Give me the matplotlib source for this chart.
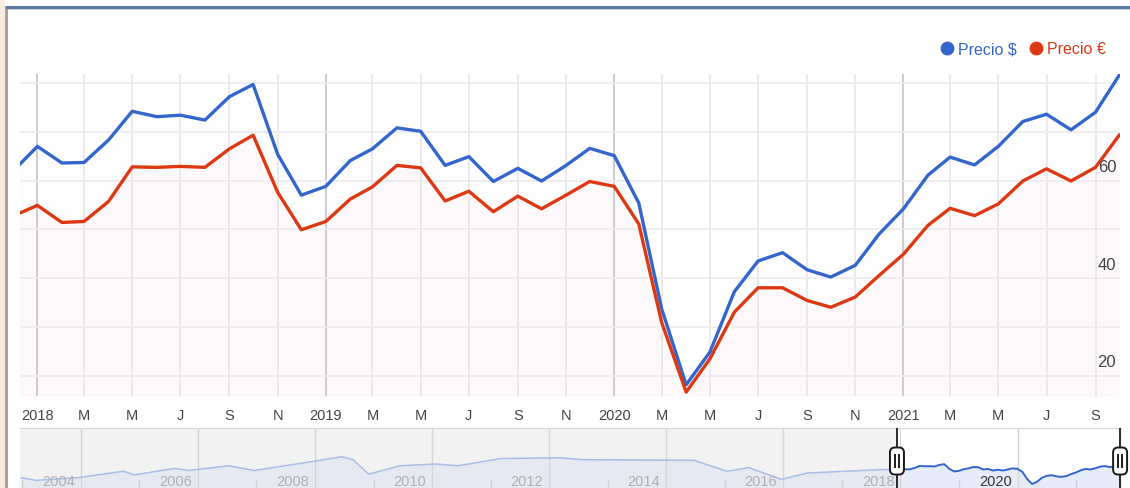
import matplotlib
matplotlib.use("Agg")
import matplotlib.pyplot as plt
import matplotlib.dates as mdates
import matplotlib.transforms as mtrans
from matplotlib.lines import Line2D
from matplotlib.patches import Rectangle, FancyBboxPatch
import pandas as pd
import datetime as dt

plt.rcParams['font.family'] = ['Liberation Sans', 'DejaVu Sans']

# ---------------- data ----------------
months = pd.date_range('2017-12-01', '2021-10-01', freq='MS')

precio_usd = [61.9,
              67.0, 63.6, 63.7, 68.3, 74.2, 73.1, 73.4, 72.4, 77.2, 79.7, 65.4, 57.0,
              58.8, 64.1, 66.5, 70.8, 70.1, 63.1, 64.9, 59.8, 62.5, 59.9, 63.1, 66.6,
              65.1, 55.4, 33.7, 18.1, 24.8, 37.2, 43.5, 45.2, 41.7, 40.2, 42.6, 49.0,
              54.2, 61.1, 64.8, 63.2, 67.0, 72.1, 73.6, 70.4, 74.0, 81.6]

precio_eur = [52.7,
              54.9, 51.4, 51.6, 55.7, 62.8, 62.7, 62.9, 62.7, 66.5, 69.3, 57.6, 49.9,
              51.6, 56.2, 58.7, 63.1, 62.6, 55.8, 57.8, 53.6, 56.8, 54.2, 57.0, 59.8,
              58.8, 51.1, 30.9, 16.6, 23.4, 33.0, 38.0, 38.0, 35.4, 34.0, 36.1, 40.5,
              44.9, 50.8, 54.3, 52.8, 55.2, 59.9, 62.4, 59.9, 62.7, 69.3]

series_names = ['Precio $', 'Precio €']
series_colors = ['#3366cc', '#dc3912']

xtick_dates = pd.date_range('2018-01-01', '2021-09-01', freq='2MS')
xtick_labels = ['2018', 'M', 'M', 'J', 'S', 'N',
                '2019', 'M', 'M', 'J', 'S', 'N',
                '2020', 'M', 'M', 'J', 'S', 'N',
                '2021', 'M', 'M', 'J', 'S']
y_grid = [20, 30, 40, 50, 60, 70, 80]
y_labels = [20, 40, 60]

# navigator (long history of Precio $)
nav_dates = pd.to_datetime(['2002-12-28', '2003-03-29', '2003-12-06', '2004-09-24', '2004-12-01',
                            '2005-08-08', '2005-11-06', '2006-07-13', '2006-12-20', '2007-12-16',
                            '2008-06-18', '2008-08-25', '2008-12-02', '2009-06-13', '2010-01-26',
                            '2010-06-10', '2011-03-10', '2012-03-11', '2012-07-24', '2014-06-25',
                            '2015-01-15', '2015-05-30', '2015-12-20', '2016-05-30', '2017-09-16'])
nav_values = [37.3, 29.3, 37.3, 57.5, 46.3, 66.5, 60.0, 74.5, 60.0, 87.8,
              102.7, 93.7, 48.5, 74.5, 80.1, 74.5, 97.1, 99.3, 93.7, 91.3,
              57.5, 68.9, 32.7, 52.2, 63.0]
nav_years = list(range(2004, 2021, 2))
nav_minor_years = list(range(2003, 2022, 2))

# ---------------- figure ----------------
W, H = 1130, 489
fig = plt.figure(figsize=(W / 100, H / 100), dpi=100)
fig.patch.set_facecolor('white')


def rect(x0, y0, x1, y1):
    return [x0 / W, 1 - y1 / H, (x1 - x0) / W, (y1 - y0) / H]


# frame decorations
fig.add_artist(Rectangle((0, 0), 5 / W, 1, transform=fig.transFigure, color='#f8ece2', lw=0))
fig.add_artist(Rectangle((5 / W, 0), 2.5 / W, 1 - 7 / H, transform=fig.transFigure, color='#aaa49c', lw=0))
fig.add_artist(Rectangle((6 / W, 1 - 9.5 / H), 1, 2.5 / H, transform=fig.transFigure, color='#5a79a6', lw=0))
fig.add_artist(Rectangle((7.5 / W, 1 - 10.5 / H), 1, 1 / H, transform=fig.transFigure, color='#d0d0d0', lw=0))

# ---------------- main chart ----------------
ax = fig.add_axes(rect(20, 75, 1120, 397))
ax.set_facecolor('white')
ax.set_xlim(dt.datetime(2017, 12, 10), dt.datetime(2021, 10, 2))
ax.set_ylim(15.8, 81.85)
for s in ax.spines.values():
    s.set_visible(False)

ax.set_yticks(y_grid)
ax.set_yticklabels([])
ax.tick_params(axis='y', length=0)
ax.set_xticks(xtick_dates)
ax.set_xticklabels(xtick_labels)
ax.tick_params(axis='x', length=0, pad=9, labelsize=10.5, labelcolor='#444444')

ax.grid(True, axis='y', color='#ebebf0', lw=1.2, zorder=0)
ax.grid(True, axis='x', color='#e6e6ea', lw=1.2, zorder=0)
for gl, lab in zip(ax.xaxis.get_gridlines(), xtick_labels):
    if lab.isdigit():
        gl.set_color('#c4c4c8')

ax.fill_between(months, precio_usd, 0, color='#cc66cc', alpha=0.012, lw=0, zorder=1)
ax.fill_between(months, precio_eur, 0, color=series_colors[1], alpha=0.015, lw=0, zorder=1)
ax.plot(months, precio_usd, color=series_colors[0], lw=2.4, solid_joinstyle='round', zorder=3)
ax.plot(months, precio_eur, color=series_colors[1], lw=2.4, solid_joinstyle='round', zorder=3)

off = mtrans.offset_copy(ax.get_yaxis_transform(), fig=fig, x=0, y=14, units='dots')
for v in y_labels:
    ax.text(0.9965, v, str(v), transform=off, ha='right', va='center',
            fontsize=12, color='#444444', zorder=4)

handles = [Line2D([], [], ls='', marker='o', markersize=9, color=c) for c in series_colors]
fig.legend(handles, series_names, loc='center right', bbox_to_anchor=(1106 / W, 1 - 50 / H),
           ncol=2, frameon=False, fontsize=11.5, labelcolor=series_colors,
           handlelength=0.8, handletextpad=0.3, columnspacing=0.8,
           borderpad=0, borderaxespad=0)

# ---------------- navigator ----------------
nav = fig.add_axes(rect(20, 429, 1122, 489))
nav.set_facecolor('#f2f2f2')
ref = mdates.date2num(dt.datetime(2004, 1, 1))
px_per_day = 58.55 / 365.25
nav.set_xlim(ref - 60.7 / px_per_day, ref + 1041.3 / px_per_day)
nav.set_ylim(5.7, 191.7)
for k, s in nav.spines.items():
    s.set_visible(k == 'top')
nav.spines['top'].set_color('#d8d8d8')
nav.set_yticks([])

sel0, sel1 = ax.get_xlim()
nav.axvspan(sel0, sel1, color='white', lw=0, zorder=0.5)

nav.set_xticks([mdates.date2num(dt.datetime(y, 1, 1)) for y in nav_years])
nav.set_xticklabels([])
nav.set_xticks([mdates.date2num(dt.datetime(y, 1, 1)) for y in nav_minor_years], minor=True)
nav.tick_params(axis='x', which='major', length=0)
nav.tick_params(axis='x', which='minor', direction='in', length=6, color='#d0d0d0', width=1)
nav.grid(True, axis='x', which='major', color='#d6d6d6', lw=1, zorder=0.6)

hist_x = list(nav_dates) + [months[0]]
hist_y = nav_values + [precio_usd[0]]
nav.fill_between(hist_x, hist_y, 0, color='#e6e9f1', lw=0, zorder=1)
nav.plot(hist_x, hist_y, color='#a9bde6', lw=1.1, zorder=2)
nav.fill_between(months, precio_usd, 0, color='#e5ebf8', lw=0, zorder=1)
nav.plot(months, precio_usd, color=series_colors[0], lw=1.4, zorder=2)

ytr = mtrans.offset_copy(nav.get_xaxis_transform(), fig=fig, x=-6, y=7, units='dots')
for y in nav_years:
    xd = mdates.date2num(dt.datetime(y, 1, 1))
    inside = sel0 <= xd - 40 / px_per_day
    nav.text(xd, 0, str(y), transform=ytr, ha='right', va='center', fontsize=10.5,
             color='#333333' if inside else '#b0b0b0', zorder=3)

for xv in (sel0, sel1):
    nav.axvline(xv, color='#1a1a1a', lw=1.3, zorder=4)

fig.canvas.draw()
for xv in (sel0, sel1):
    xp, _ = nav.transData.transform((xv, 0))
    yc = H - 462
    box = FancyBboxPatch((xp - 7, yc - 13.5), 14, 27, boxstyle='round,pad=0,rounding_size=5',
                         transform=None, fc='white', ec='#1a1a1a', lw=1.4, zorder=10)
    fig.add_artist(box)
    for dx in (-2, 2):
        fig.add_artist(Line2D([xp + dx, xp + dx], [yc - 6, yc + 6], transform=None,
                              color='#1a1a1a', lw=1.4, zorder=11))

fig.savefig('out.png', dpi=100)
